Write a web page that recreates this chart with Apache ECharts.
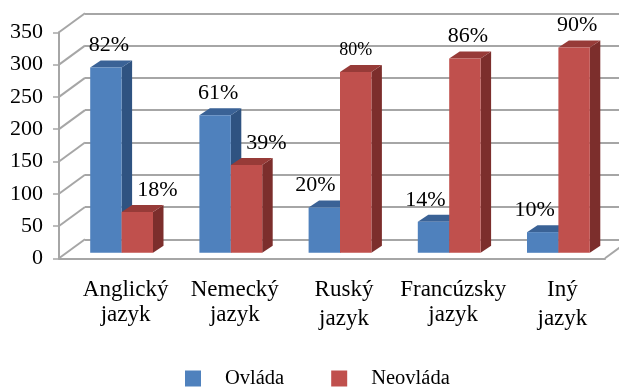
<!DOCTYPE html>
<html>
<head>
<meta charset="utf-8">
<script src="https://cdn.jsdelivr.net/npm/echarts@6/dist/echarts.min.js"></script>
<style>html,body{margin:0;padding:0;background:#fff}#c{width:619px;height:387px}</style>
</head>
<body>
<div id="c"></div>
<script>
// Language skills by language: respondents who speak it vs. those who do not
const categories = ['Anglický', 'Nemecký', 'Ruský', 'Francúzsky', 'Iný'];
const ovlada = [287, 213, 70, 48, 32];
const neovlada = [63, 136, 280, 301, 318];
const ovladaLabels = ['82%', '61%', '20%', '14%', '10%'];
const neovladaLabels = ['18%', '39%', '80%', '86%', '90%'];
const yTicks = [0, 50, 100, 150, 200, 250, 300, 350];

// Horizontal label nudges and font sizes for the percentage labels
const ovladaNudge = [3, 3, -9, -8, -8];
const neovladaNudge = [20, 20, 0, 3, 3];
const neovladaSizes = [22, 22, 18, 22, 22];

const FONT = '"Liberation Serif", serif';
const GRID = '#a6a6a6';
const INK = '#000';
// Depth of the 3D box: wall offset and bar offset
const WALL_DX = 26, WALL_DY = -19;
const BAR_W = 31.4, BAR_DX = 10.5, BAR_DY = -7, BAR_SHIFT_X = 8, BAR_SHIFT_Y = -5.5;

function barRenderer(side, colors, labels, nudges, sizes) {
  return function (params, api) {
    const i = api.value(0);
    const base = api.coord([i, 0]);
    const top = api.coord([i, api.value(1)]);
    const x0 = base[0] + BAR_SHIFT_X + (side < 0 ? -BAR_W : 0);
    const x1 = x0 + BAR_W;
    const yB = base[1] + BAR_SHIFT_Y;
    const yT = top[1] + BAR_SHIFT_Y;
    return {
      type: 'group',
      children: [
        { type: 'polygon', shape: { points: [[x1, yB], [x1 + BAR_DX, yB + BAR_DY], [x1 + BAR_DX, yT + BAR_DY], [x1, yT]] }, style: { fill: colors.side } },
        { type: 'polygon', shape: { points: [[x0, yT], [x0 + BAR_DX, yT + BAR_DY], [x1 + BAR_DX, yT + BAR_DY], [x1, yT]] }, style: { fill: colors.top } },
        { type: 'rect', shape: { x: x0, y: yT, width: BAR_W, height: yB - yT }, style: { fill: colors.front } },
        { type: 'text', z2: 10, style: { text: labels[i], x: (x0 + x1) / 2 + nudges[i], y: yT - 22, align: 'center', verticalAlign: 'middle', fill: INK, font: (sizes ? sizes[i] : 22) + 'px ' + FONT } }
      ]
    };
  };
}

// Side walls and floor edges, joining the front axis to the back wall
function frameRenderer(params, api) {
  const cs = params.coordSys;
  const v = api.value(0);
  const p = api.coord([0, v]);
  const seg = (x, y) => ({ type: 'line', shape: { x1: x, y1: y, x2: x + WALL_DX, y2: y + WALL_DY }, style: { stroke: GRID, lineWidth: 2 } });
  const children = [seg(cs.x, p[1])];
  if (v === 0) children.push(seg(cs.x + cs.width, p[1]));
  return { type: 'group', children };
}

const chart = echarts.init(document.getElementById('c'), null, { renderer: 'canvas' });
chart.setOption({
  animation: false,
  backgroundColor: '#fff',
  grid: [
    { left: 59, top: 32.3, width: 546, height: 226 },
    { left: 85, top: 13.3, width: 546, height: 226 }
  ],
  legend: {
    data: ['Ovláda', 'Neovláda'],
    left: 180,
    top: 363,
    icon: 'rect',
    itemWidth: 16,
    itemHeight: 16,
    itemGap: 47,
    textStyle: { fontFamily: FONT, fontSize: 20.5, color: INK, padding: [3, 0, 0, 19] }
  },
  xAxis: [
    {
      type: 'category',
      gridIndex: 0,
      data: categories,
      axisLine: { lineStyle: { color: GRID, width: 2 } },
      axisTick: { length: 5, lineStyle: { color: GRID, width: 1.5 } },
      axisLabel: {
        margin: 19,
        padding: [0, 0, 0, 24],
        interval: 0,
        fontFamily: FONT,
        fontSize: 23,
        color: INK,
        formatter: (name) => {
          const low = name === 'Ruský' || name === 'Iný';
          return '{a|' + name + '}\n{' + (low ? 'c' : 'b') + '|jazyk}';
        },
        rich: {
          a: { fontFamily: FONT, fontSize: 23, color: INK, lineHeight: 25 },
          b: { fontFamily: FONT, fontSize: 23, color: INK, lineHeight: 25 },
          c: { fontFamily: FONT, fontSize: 23, color: INK, lineHeight: 33 }
        }
      }
    },
    { type: 'category', gridIndex: 1, data: categories, show: false }
  ],
  yAxis: [
    {
      type: 'value',
      gridIndex: 0,
      min: 0,
      max: 350,
      interval: 50,
      splitLine: { show: false },
      axisLine: { show: true, lineStyle: { color: GRID, width: 2 } },
      axisTick: { show: true, length: 6, lineStyle: { color: GRID, width: 1.5 } },
      axisLabel: { margin: 16, fontFamily: FONT, fontSize: 22, color: INK }
    },
    {
      type: 'value',
      gridIndex: 1,
      min: 0,
      max: 350,
      interval: 50,
      axisLine: { show: false },
      axisTick: { show: false },
      axisLabel: { show: false },
      splitLine: { show: true, lineStyle: { color: GRID, width: 2 } }
    }
  ],
  series: [
    {
      name: 'frame',
      type: 'custom',
      xAxisIndex: 0,
      yAxisIndex: 0,
      clip: false,
      silent: true,
      z: 1,
      data: yTicks.map((v) => [v]),
      encode: { y: 0 },
      renderItem: frameRenderer
    },
    {
      name: 'Ovláda',
      type: 'custom',
      xAxisIndex: 0,
      yAxisIndex: 0,
      clip: false,
      z: 3,
      itemStyle: { color: '#4F81BD' },
      data: ovlada.map((v, i) => [i, v]),
      encode: { x: 0, y: 1 },
      renderItem: barRenderer(-1, { front: '#4F81BD', side: '#2F5381', top: '#3A6296' }, ovladaLabels, ovladaNudge)
    },
    {
      name: 'Neovláda',
      type: 'custom',
      xAxisIndex: 0,
      yAxisIndex: 0,
      clip: false,
      z: 4,
      itemStyle: { color: '#C0504D' },
      data: neovlada.map((v, i) => [i, v]),
      encode: { x: 0, y: 1 },
      renderItem: barRenderer(1, { front: '#C0504D', side: '#7C2E2C', top: '#973B38' }, neovladaLabels, neovladaNudge, neovladaSizes)
    }
  ]
});
</script>
</body>
</html>
